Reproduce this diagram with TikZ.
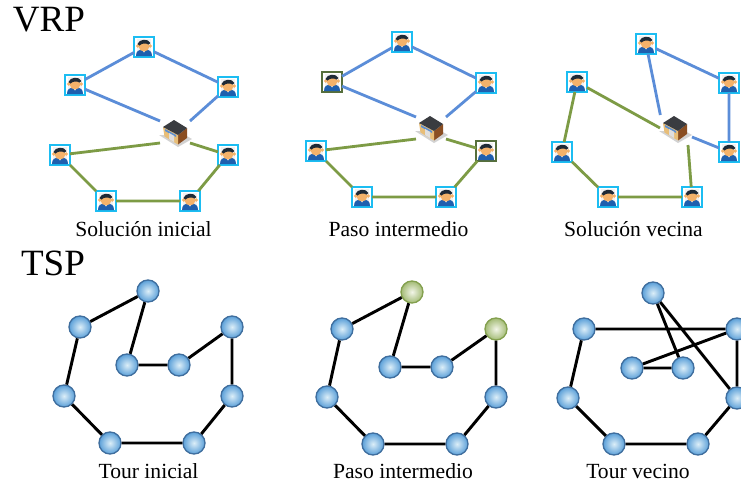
\documentclass[tikz,border=0pt]{standalone}
\usepackage{fontspec}
\setmainfont{Liberation Serif}
\definecolor{boxcyan}{HTML}{1CBDF2}
\definecolor{boxgreen}{HTML}{566F3C}
\definecolor{routeblue}{HTML}{5B8DD8}
\definecolor{routegreen}{HTML}{7D9B45}
\definecolor{ballrim}{HTML}{3F6E9E}
\definecolor{ballin}{HTML}{DCEEF8}
\definecolor{ballout}{HTML}{5A9FD8}
\definecolor{ballgrim}{HTML}{83A04E}
\definecolor{ballgin}{HTML}{F2F5E8}
\definecolor{ballgout}{HTML}{A3BB75}
\definecolor{personblue}{HTML}{1F5FAE}
\definecolor{personskin}{HTML}{F4B26A}
\definecolor{personhair}{HTML}{1F2A36}
\definecolor{depotbrown}{HTML}{8A4E22}
\definecolor{depottan}{HTML}{E8BE78}
\definecolor{depotglass}{HTML}{5C8FD0}
\definecolor{depotroof}{HTML}{3A3C40}
\tikzset{
  custbox/.style={draw=boxcyan,line width=1.7pt,fill=white,minimum size=15pt,inner sep=0pt,outer sep=0pt},
  custsel/.style={custbox,draw=boxgreen},
  depotbox/.style={minimum width=22.5pt,minimum height=16.5pt,inner sep=0pt,outer sep=0pt},
  bluer/.style={routeblue,line width=2.1pt},
  greenr/.style={routegreen,line width=2.1pt},
  ballb/.style={circle,minimum size=16.5pt,inner sep=0pt,line width=1pt,draw=ballrim,inner color=ballin,outer color=ballout},
  ballg/.style={ballb,draw=ballgrim,inner color=ballgin,outer color=ballgout},
  tourline/.style={black,line width=2.2pt},
  labeltext/.style={font=\fontsize{16.2}{18}\selectfont,inner sep=0pt},
  bigtext/.style={font=\fontsize{27.8}{30}\selectfont,inner sep=0pt},
  person/.pic={
    \fill[white!90!gray] (-7,-8) rectangle (7,9);
    \fill[fill=personblue] (-8,9) .. controls (-8,4) and (-5,3) .. (-3,2.5) -- (3,2.5) .. controls (5,3) and (8,4) .. (8,9) -- cycle;
    \fill[white] (-2,2.5) -- (0,5.5) -- (2,2.5) -- cycle;
    \fill[personskin] (-6.2,-1) circle (1.4pt) (6.2,-1) circle (1.4pt);
    \fill[personskin] (0,-0.5) ellipse (4pt and 3.8pt);
    \fill[personhair] (-6.5,-3) .. controls (-5,-8) and (4,-9) .. (6.5,-4) -- (4.5,-2.5) .. controls (2,-4) and (-2,-4) .. (-4.5,-1.5) -- cycle;
  },
  depot/.pic={
    \fill[gray!35] (-16,3) -- (3,15) -- (17,7) -- (10,3) -- cycle;
    \fill[depotbrown] (3,3) -- (12,-4) -- (12,6) -- (3,12.5) -- cycle;
    \fill[depottan] (-12,-5) -- (3,3) -- (3,12.5) -- (-10.5,4.5) -- cycle;
    \fill[depotglass] (-10,-3) -- (1,3) -- (1,5) -- (-10,-1) -- cycle;
    \fill[gray!25] (-6,1) -- (-1,3.8) -- (-1,10) -- (-6,7) -- cycle;
    \fill[depotroof] (-12,-5) -- (-1,-12) -- (12,-4) -- (3,3) -- cycle;
  }
}
\newcommand{\custnode}[4]{\node[#1] (#2) at (#3,#4) {}; \pic at (#2) {person};}
\begin{document}
\begin{tikzpicture}[x=0.75pt,y=-0.75pt]
\useasboundingbox (0,0) rectangle (741,483);
\clip (0,0) rectangle (741,483);
\fill[white] (0,0) rectangle (741,483);
\node[bigtext] (vrp) at (49,20) {VRP};
\node[bigtext] (tsp) at (53,263) {TSP};

% --- VRP panel 1
\node[depotbox] (d1) at (175,132) {};
\custnode{custbox}{a1}{144}{47}
\custnode{custbox}{b1}{75}{85}
\custnode{custbox}{c1}{228}{87}
\custnode{custbox}{e1}{60}{155}
\custnode{custbox}{f1}{228}{155}
\custnode{custbox}{g1}{106}{201}
\custnode{custbox}{h1}{190}{201}
\draw[bluer] (d1.north west) -- (b1) -- (a1) -- (c1) -- (d1.north east);
\draw[greenr] (d1.south west) -- (e1) -- (g1) -- (h1) -- (f1) -- (d1.south east);
\pic at (d1) {depot};
\node[labeltext] (l1) at (143.5,229) {Solución inicial};

% --- VRP panel 2
\node[depotbox] (d2) at (431,128) {};
\custnode{custbox}{a2}{402}{42}
\custnode{custsel}{b2}{332}{82}
\custnode{custbox}{c2}{486}{83}
\custnode{custbox}{e2}{316}{151}
\custnode{custsel}{f2}{486}{151}
\custnode{custbox}{g2}{362}{197}
\custnode{custbox}{h2}{446}{197}
\draw[bluer] (d2.north west) -- (b2) -- (a2) -- (c2) -- (d2.north east);
\draw[greenr] (d2.south west) -- (e2) -- (g2) -- (h2) -- (f2) -- (d2.south east);
\pic at (d2) {depot};
\node[labeltext] (l2) at (398.5,229) {Paso intermedio};

% --- VRP panel 3
\node[depotbox] (d3) at (675,128) {};
\custnode{custbox}{a3}{646}{44}
\custnode{custbox}{b3}{577}{82}
\custnode{custbox}{c3}{729}{83}
\custnode{custbox}{e3}{562}{152}
\custnode{custbox}{f3}{729}{152}
\custnode{custbox}{g3}{608}{197}
\custnode{custbox}{h3}{692}{197}
\draw[bluer] ([xshift=-11pt,yshift=1.5pt]d3.north) -- (a3) -- (c3) -- (f3) -- ([xshift=1.5pt,yshift=1.5pt]d3.south east);
\draw[greenr] (d3.west) -- (b3) -- (e3) -- (g3) -- (h3) -- ([xshift=9.75pt,yshift=-4.5pt]d3.south);
\pic at (d3) {depot};
\node[labeltext] (l3) at (633.5,229) {Solución vecina};

% --- TSP panel 1
\node[ballb] (ta1) at (148,291) {};
\node[ballb] (tb1) at (80,327) {};
\node[ballb] (tc1) at (232,327) {};
\node[ballb] (td1) at (64,396) {};
\node[ballb] (te1) at (232,396) {};
\node[ballb] (tf1) at (110,443) {};
\node[ballb] (tg1) at (194,443) {};
\node[ballb] (th1) at (127,365) {};
\node[ballb] (ti1) at (179,365) {};
\draw[tourline] (ta1) -- (tb1) -- (td1) -- (tf1) -- (tg1) -- (te1) -- (tc1) -- (ti1) -- (th1) -- (ta1);
\node[labeltext] (l4) at (148.5,471) {Tour inicial};

% --- TSP panel 2
\node[ballg] (ta2) at (412,292) {};
\node[ballb] (tb2) at (342,329) {};
\node[ballg] (tc2) at (496,329) {};
\node[ballb] (td2) at (327,397) {};
\node[ballb] (te2) at (496,397) {};
\node[ballb] (tf2) at (373,444) {};
\node[ballb] (tg2) at (457,444) {};
\node[ballb] (th2) at (390,367) {};
\node[ballb] (ti2) at (442,367) {};
\draw[tourline] (ta2) -- (tb2) -- (td2) -- (tf2) -- (tg2) -- (te2) -- (tc2) -- (ti2) -- (th2) -- (ta2);
\node[labeltext] (l5) at (403,471) {Paso intermedio};

% --- TSP panel 3
\node[ballb] (ta3) at (653,293) {};
\node[ballb] (tb3) at (584,329) {};
\node[ballb] (tc3) at (737,329) {};
\node[ballb] (td3) at (568,398) {};
\node[ballb] (te3) at (737,398) {};
\node[ballb] (tf3) at (614,444) {};
\node[ballb] (tg3) at (698,444) {};
\node[ballb] (th3) at (632,368) {};
\node[ballb] (ti3) at (683,368) {};
\draw[tourline] (ti3) -- (ta3) -- (te3) -- (tc3) -- (tb3) -- (td3) -- (tf3) -- (tg3) -- (te3);
\draw[tourline] (tc3) -- (th3) -- (ti3);
\node[labeltext] (l6) at (638,471) {Tour vecino};
\end{tikzpicture}
\end{document}
